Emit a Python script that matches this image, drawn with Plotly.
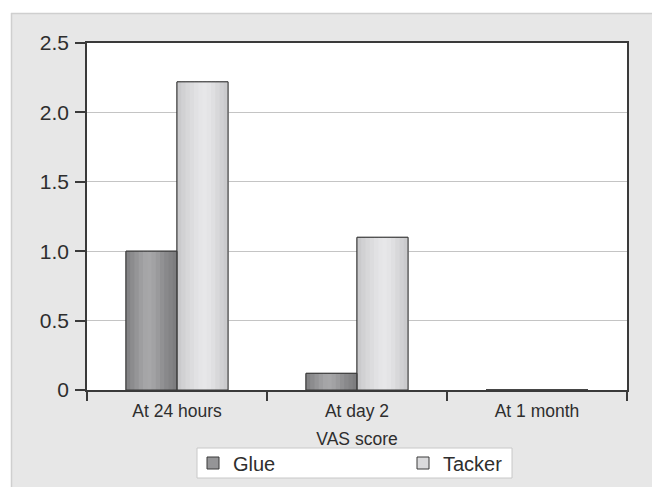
import plotly.graph_objects as go

categories = ["At 24 hours", "At day 2", "At 1 month"]
glue = [1.0, 0.12, 0.0]
tacker = [2.22, 1.1, 0.0]
y_ticks = [0, 0.5, 1.0, 1.5, 2.0, 2.5]
y_tick_labels = ["0", "0.5", "1.0", "1.5", "2.0", "2.5"]

FONT = "Liberation Sans, Arial, sans-serif"
TXT = "#2e2e2e"
EDGE = "#3a3a3a"

# cylinder-like shading profiles (left -> right across each bar)
glue_shade = ["#838385", "#8c8c8e", "#959597", "#9e9ea0", "#a5a5a7", "#a7a7a9",
              "#a2a2a4", "#9a9a9c", "#919193", "#89898b", "#838385", "#7d7d7f"]
tacker_shade = ["#cacacc", "#d1d1d3", "#d7d7d9", "#dcdcde", "#e1e1e3", "#e5e5e7",
                "#e7e7e9", "#e4e4e6", "#dfdfe1", "#d8d8da", "#d1d1d3", "#cbcbcd"]

BW = 51 / 180  # bar width as fraction of category slot

fig = go.Figure()
series = [("Glue", glue, "#959597", glue_shade, -BW), ("Tacker", tacker, "#dadadc", tacker_shade, 0.0)]

# base traces (carry the legend entries)
for name, vals, col, shade, off in series:
    fig.add_trace(go.Bar(name=name, x=categories, y=vals, width=BW, offset=off,
                         marker=dict(color=col, line=dict(color=EDGE, width=1))))
# shading strips
for name, vals, col, shade, off in series:
    n = len(shade)
    sw = BW / n
    for k, c in enumerate(shade):
        fig.add_trace(go.Bar(x=categories, y=vals, width=sw * 1.15, offset=off + k * sw,
                             marker=dict(color=c, line=dict(width=0)),
                             showlegend=False, hoverinfo="skip"))
# outlines on top
for name, vals, col, shade, off in series:
    fig.add_trace(go.Bar(x=categories, y=vals, width=BW, offset=off,
                         marker=dict(color="rgba(0,0,0,0)", line=dict(color=EDGE, width=1)),
                         showlegend=False, hoverinfo="skip"))

# page body has an 8px margin; plot area in window coords: x 87..627, y 43..390
OFF = 8
W, H = 660 - OFF, 487 - OFF
L, T = 87 - OFF, 43 - OFF
R, B = 660 - 627, 487 - 390
pw, ph = 540, 347
px = lambda v: (v - 87) / pw          # window px -> paper x
py = lambda v: (390 - v) / ph         # window px -> paper y

shapes = [
    dict(type="rect", xref="paper", yref="paper", x0=px(-20), x1=px(700), y0=py(13), y1=py(-20),
         fillcolor="white", line=dict(width=0), layer="below"),
    dict(type="rect", xref="paper", yref="paper", x0=px(-20), x1=px(11), y0=py(700), y1=py(-20),
         fillcolor="white", line=dict(width=0), layer="below"),
    dict(type="line", xref="paper", yref="paper", x0=px(11), x1=px(700), y0=py(13.5), y1=py(13.5),
         line=dict(color="#cfcfcf", width=1.5)),
    dict(type="line", xref="paper", yref="paper", x0=px(11.5), x1=px(11.5), y0=py(13), y1=py(700),
         line=dict(color="#cfcfcf", width=1.5)),
    # legend box
    dict(type="rect", xref="paper", yref="paper", x0=px(197), x1=px(512), y0=py(478), y1=py(448),
         fillcolor="white", line=dict(color="#c8c8c8", width=1), layer="below"),
]

fig.update_layout(
    width=W, height=H,
    margin=dict(l=L, r=R, t=T, b=B, autoexpand=False),
    paper_bgcolor="#e7e7e7",
    plot_bgcolor="white",
    barmode="overlay",
    font=dict(family=FONT, color=TXT, size=17),
    shapes=shapes,
    showlegend=True,
    legend=dict(
        orientation="h", x=px(193), xanchor="left", y=py(463), yanchor="middle",
        bgcolor="rgba(0,0,0,0)", borderwidth=0,
        font=dict(size=20, family=FONT, color=TXT),
        entrywidth=165, entrywidthmode="pixels",
    ),
    xaxis=dict(
        showline=True, linecolor=EDGE, linewidth=1.5, mirror=True,
        ticks="outside", ticklen=9, tickcolor=EDGE, tickwidth=1.5,
        tickson="boundaries", showgrid=False,
        tickfont=dict(size=17.5), ticklabelstandoff=4,
        title=dict(text="VAS score", font=dict(size=17.5), standoff=13),
    ),
    yaxis=dict(
        range=[0, 2.5], tickvals=y_ticks, ticktext=y_tick_labels,
        showline=True, linecolor=EDGE, linewidth=1.5, mirror=True,
        ticks="outside", ticklen=10, tickcolor=EDGE, tickwidth=1.5,
        showgrid=True, gridcolor="#c4c4c4", gridwidth=1.2,
        zeroline=False,
        tickfont=dict(size=21), ticklabelstandoff=2,
    ),
)

fig.write_html("out.html")
